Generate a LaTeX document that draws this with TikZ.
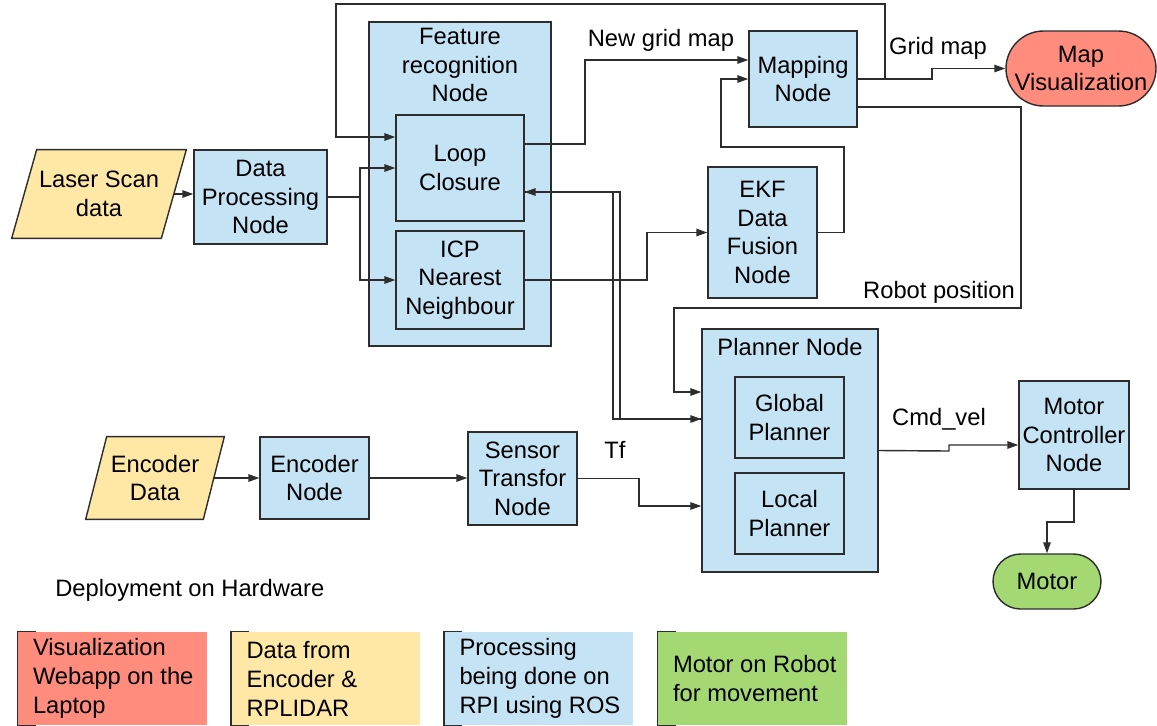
\documentclass[tikz,border=0pt]{standalone}
\usepackage{fontspec}
\setmainfont{Liberation Sans}
\usetikzlibrary{arrows.meta,backgrounds}
\definecolor{bleu}{RGB}{196,227,245}
\definecolor{jaune}{RGB}{255,232,165}
\definecolor{rouge}{RGB}{255,140,125}
\definecolor{vert}{RGB}{163,216,114}
\definecolor{trait}{RGB}{45,45,45}

\begin{document}
\begin{tikzpicture}[x=0.02cm,y=-0.02cm]
\tikzset{noeud/.style={draw=trait, line width=0.8pt, fill=bleu, align=center, inner sep=0pt, font=\fontsize{13.5}{16.2}\selectfont},
donnees/.style={align=center, inner sep=0pt, font=\fontsize{13.5}{16.2}\selectfont},
cadre/.style={draw=trait, line width=0.8pt, fill=jaune},
texte/.style={align=center, inner sep=0pt, font=\fontsize{13.5}{16.2}\selectfont},
legende/.style={minimum width=3.78cm, minimum height=1.86cm, inner sep=0pt},
textelegende/.style={anchor=west, align=left, inner sep=0pt, font=\fontsize{13.5}{16.5}\selectfont},
crochet/.style={draw=trait, line width=0.9pt},
fleche/.style={draw=trait, line width=0.8pt, -{Triangle[length=2.2mm,width=1.5mm]}}}
\useasboundingbox (0,0) rectangle (1157,725);

\node[donnees, minimum width=2.98cm, minimum height=1.76cm] (LS) at (99,194) {Laser Scan\\data};
\node[noeud, minimum width=2.66cm, minimum height=1.88cm] (DP) at (260.5,197) {Data\\Processing\\Node};
\node[noeud, minimum width=3.64cm, minimum height=6.48cm] (FR) at (460,184) {};
\node[texte] (FRt) at (460,65) {Feature\\recognition\\Node};
\node[noeud, minimum width=2.56cm, minimum height=2.12cm] (LC) at (460,168) {Loop\\Closure};
\node[noeud, minimum width=2.56cm, minimum height=1.96cm] (ICP) at (460,280) {ICP\\Nearest\\Neighbour};
\node[noeud, minimum width=2.16cm, minimum height=1.92cm] (MP) at (803,79) {Mapping\\Node};
\node[noeud, fill=rouge, rounded corners=0.75cm, minimum width=3cm, minimum height=1.5cm] (MV) at (1081,68.5) {Map\\Visualization};
\node[noeud, minimum width=2.18cm, minimum height=2.62cm] (EKF) at (762.5,232.5) {EKF\\Data\\Fusion\\Node};
\node[noeud, minimum width=3.52cm, minimum height=4.86cm] (PL) at (790,450.5) {};
\node[texte] (PLt) at (790,347) {Planner Node};
\node[noeud, minimum width=2.18cm, minimum height=1.62cm] (GP) at (789.5,417.5) {Global\\Planner};
\node[noeud, minimum width=2.18cm, minimum height=1.62cm] (LP) at (789.5,513.5) {Local\\Planner};
\node[noeud, minimum width=2.2cm, minimum height=2.16cm] (MC) at (1074,435) {Motor\\Controller\\Node};
\node[noeud, fill=vert, rounded corners=0.55cm, minimum width=2.16cm, minimum height=1.1cm] (MO) at (1047,581.5) {Motor};
\node[donnees, minimum width=2.34cm, minimum height=1.64cm] (ED) at (155,478) {Encoder\\Data};
\node[noeud, minimum width=2.18cm, minimum height=1.64cm] (EN) at (314.5,478) {Encoder\\Node};
\node[noeud, minimum width=2.18cm, minimum height=1.86cm] (ST) at (522.5,478.5) {Sensor\\Transfor\\Node};

\begin{scope}[on background layer]
\filldraw[cadre] ([xshift=0.25cm]LS.north west) -- ([xshift=0.25cm]LS.north east) -- ([xshift=-0.25cm]LS.south east) -- ([xshift=-0.25cm]LS.south west) -- cycle;
\filldraw[cadre] ([xshift=0.21cm]ED.north west) -- ([xshift=0.21cm]ED.north east) -- ([xshift=-0.21cm]ED.south east) -- ([xshift=-0.21cm]ED.south west) -- cycle;
\end{scope}

\node[texte] (NG) at (661,40) {New grid map};
\node[texte] (GM) at (938,48) {Grid map};
\node[texte] (RP) at (939,292) {Robot position};
\node[texte] (TF) at (615,450) {Tf};
\node[texte] (CV) at (939,419) {Cmd\_vel};

\draw[fleche] (LS.east) -- (LS.east -| DP.west);
\draw[fleche] (DP.east) -- (360,197) |- (LC.west);
\draw[fleche] (DP.east) -- (360,197) |- (ICP.west);
\draw[fleche] (MP.east) -- (885,79) -- (885,4) -| (336,137) -- (LC.west |- 0,137);
\draw[fleche] (MP.east) -- (932,79) |- (MV.west);
\draw[fleche] (LC.east |- 0,144) -- (585,144) |- (MP.west |- 0,60);
\draw[fleche] (EKF.east) -- (844,232.5) |- (721,147) |- (MP.west);
\draw[fleche] (ICP.east) -- (647,280) |- (EKF.west);
\draw[fleche] (MP.east |- 0,107) -- (1021,107) |- (674,308) |- (PL.west |- 0,392);
\draw[fleche] (LC.east |- 0,192) -| (613,419) -- (PL.west |- 0,419);
\draw[fleche] (PL.west |- 0,419) -| (620,192) -- (LC.east |- 0,192);
\draw[fleche] (ST.east) -- (639,478.5) |- (PL.west |- 0,506);
\draw[fleche] (ED.east) -- (ED.east -| EN.west);
\draw[fleche] (EN.east) -- (EN.east -| ST.west);
\draw[fleche] (PL.east) -- (949,451) |- (MC.west |- 0,445);
\draw[fleche] (MC.south) -- (1074,522) -| (MO.north);

\node[texte, anchor=west] (DH) at (55,590) {Deployment on Hardware};
\node[legende, fill=rouge] (L1) at (112.5,678.5) {};
\node[legende, fill=jaune] (L2) at (326,678.5) {};
\node[legende, fill=bleu] (L3) at (539,678.5) {};
\node[legende, fill=vert] (L4) at (752.5,678.5) {};
\node[textelegende] (L1t) at ([xshift=0.3cm]L1.west) {Visualization\\Webapp on the\\Laptop};
\node[textelegende] (L2t) at ([xshift=0.3cm]L2.west) {Data from\\Encoder \&\\RPLIDAR};
\node[textelegende] (L3t) at ([xshift=0.3cm]L3.west) {Processing\\being done on\\RPI using ROS};
\node[textelegende] (L4t) at ([xshift=0.3cm]L4.west) {Motor on Robot\\for movement};
\foreach \n in {L1,L2,L3,L4}
  \draw[crochet] ([xshift=0.36cm]\n.north west) -- (\n.north west) -- (\n.south west) -- ([xshift=0.36cm]\n.south west);
\end{tikzpicture}
\end{document}
